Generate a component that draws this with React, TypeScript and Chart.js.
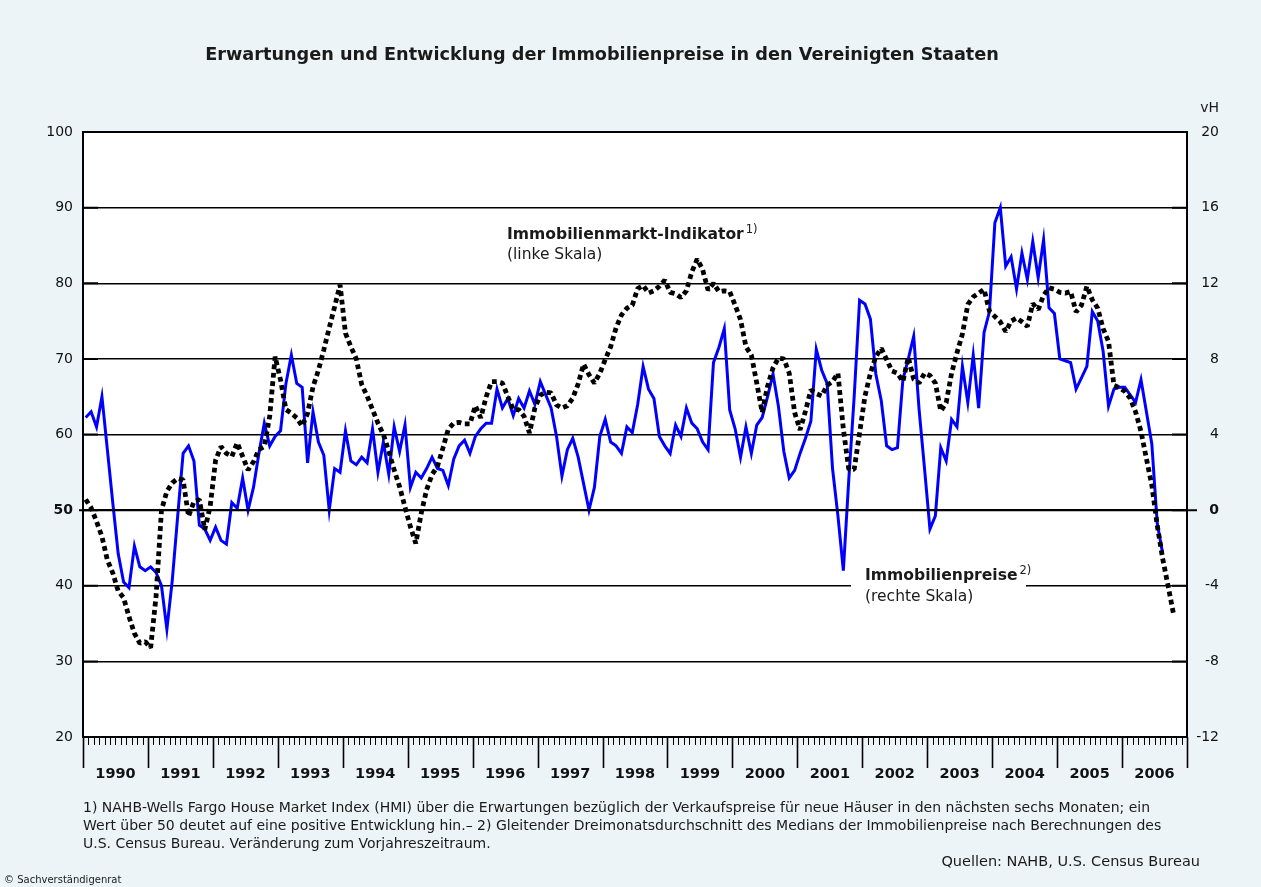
import React, { useEffect, useRef } from 'react';
import { Chart, registerables } from 'chart.js';

Chart.register(...registerables);

const FONT = '"DejaVu Sans", "Liberation Sans", Arial, sans-serif';

const titleText = 'Erwartungen und Entwicklung der Immobilienpreise in den Vereinigten Staaten';

const years = ['1990', '1991', '1992', '1993', '1994', '1995', '1996', '1997', '1998', '1999', '2000', '2001', '2002', '2003', '2004', '2005', '2006'];

// NAHB-Wells Fargo HMI (linke Skala), monatlich ab Januar 1990
const indicatorValues = [
  51.4, 50.3, 48.5, 46.5, 43.4, 41.7, 39.3, 38.4, 35.9, 33.7, 32.4, 32.6,
  31.8, 38.6, 50.0, 52.5, 53.6, 54.2, 54.0, 49.2, 51.1, 51.4, 47.4, 50.5,
  56.6, 58.4, 57.5, 57.1, 58.9, 57.1, 55.3, 56.4, 58.0, 58.4, 62.4, 70.3,
  67.2, 63.3, 62.8, 62.2, 61.1, 62.8, 66.3, 68.5, 71.2, 74.1, 76.9, 79.8,
  73.4, 71.6, 70.0, 66.6, 65.1, 63.3, 61.5, 60.0, 57.8, 55.3, 53.1, 50.4,
  47.8, 45.6, 49.6, 52.7, 54.7, 55.8, 58.2, 60.7, 61.5, 61.6, 61.4, 61.4,
  63.8, 62.2, 65.0, 67.0, 67.0, 66.8, 65.0, 63.3, 63.3, 62.4, 60.2, 63.5,
  65.2, 65.6, 65.5, 63.9, 63.5, 63.8, 64.8, 66.7, 69.3, 67.9, 66.8, 68.1,
  69.9, 71.6, 74.1, 75.8, 76.7, 77.1, 79.3, 79.7, 78.7, 79.0, 79.6, 80.4,
  78.8, 78.6, 78.1, 79.0, 81.5, 83.2, 81.8, 79.1, 80.0, 78.9, 79.0, 78.9,
  77.1, 75.2, 71.6, 70.5, 66.8, 62.9, 66.4, 68.8, 70.1, 70.0, 68.1, 62.9,
  60.6, 63.1, 65.9, 65.4, 65.1, 66.5, 67.0, 68.1, 60.7, 55.4, 55.4, 60.2,
  65.1, 68.1, 70.3, 71.4, 69.9, 68.4, 68.1, 67.0, 70.2, 67.3, 66.8, 68.1,
  67.8, 66.8, 63.1, 64.2, 68.1, 70.8, 73.3, 77.2, 78.2, 78.7, 79.2, 76.3,
  75.6, 74.9, 73.6, 75.0, 75.4, 74.9, 74.3, 77.3, 76.5, 78.4, 79.4, 79.2,
  78.8, 78.7, 78.9, 76.2, 77.1, 79.6, 77.8, 76.7, 74.0, 72.3, 66.5, 66.2,
  65.7, 64.8, 63.0, 60.4, 56.8, 53.3, 48.0, 43.6, 40.0, 36.3,
];

// Immobilienpreise, Veränderung zum Vorjahr in vH (rechte Skala), monatlich ab Januar 1990
const priceChangeValues = [
  4.9, 5.2, 4.4, 6.0, 3.2, 0.4, -2.3, -3.8, -4.1, -1.9, -3.0, -3.2,
  -3.0, -3.3, -4.0, -6.3, -3.7, -0.3, 3.0, 3.4, 2.6, -0.8, -1.0, -1.6,
  -0.9, -1.6, -1.8, 0.4, 0.1, 1.7, 0.0, 1.2, 3.0, 4.6, 3.4, 3.9,
  4.2, 6.7, 8.2, 6.7, 6.5, 2.5, 5.2, 3.6, 2.9, 0.0, 2.2, 2.0,
  4.2, 2.6, 2.4, 2.8, 2.5, 4.3, 2.0, 3.6, 1.9, 4.4, 3.1, 4.5,
  1.2, 2.0, 1.7, 2.2, 2.8, 2.2, 2.1, 1.3, 2.7, 3.4, 3.7, 3.0,
  3.9, 4.3, 4.6, 4.6, 6.4, 5.4, 5.9, 5.0, 5.9, 5.4, 6.3, 5.6,
  6.8, 6.1, 5.4, 3.9, 1.8, 3.2, 3.8, 2.8, 1.4, 0.0, 1.2, 3.9,
  4.8, 3.6, 3.4, 3.0, 4.4, 4.1, 5.6, 7.6, 6.4, 5.9, 3.9, 3.4,
  3.0, 4.5, 3.9, 5.4, 4.6, 4.3, 3.6, 3.2, 7.8, 8.6, 9.6, 5.3,
  4.3, 2.8, 4.4, 3.0, 4.5, 4.9, 6.0, 7.2, 5.5, 3.1, 1.7, 2.1,
  3.0, 3.8, 4.7, 8.5, 7.4, 6.7, 2.2, -0.3, -3.2, 1.6, 6.0, 11.1,
  10.9, 10.1, 7.2, 5.8, 3.4, 3.2, 3.3, 6.9, 8.0, 9.2, 5.3, 2.2,
  -1.0, -0.3, 3.3, 2.6, 4.8, 4.4, 7.6, 5.7, 8.2, 5.4, 9.4, 10.5,
  15.2, 16.0, 12.9, 13.4, 11.7, 13.6, 12.2, 14.2, 12.3, 14.3, 10.7, 10.4,
  8.0, 7.9, 7.8, 6.4, 7.0, 7.6, 10.5, 10.0, 8.4, 5.5, 6.4, 6.5,
  6.5, 6.1, 5.7, 6.9, 5.2, 3.5, -0.7, -2.3,
];

const leftAxis = { min: 20, max: 100, step: 10, bold: 50 };
const rightAxis = { min: -12, max: 20, step: 4, bold: 0, unit: 'vH' };

const indicatorLabel = ['Immobilienmarkt-Indikator', '1)', '(linke Skala)'];
const priceLabel = ['Immobilienpreise', '2)', '(rechte Skala)'];

const footnotes = [
  '1) NAHB-Wells Fargo House Market Index (HMI) über die Erwartungen bezüglich der Verkaufspreise für neue Häuser in den nächsten sechs Monaten; ein',
  'Wert über 50 deutet auf eine positive Entwicklung hin.– 2) Gleitender Dreimonatsdurchschnitt des Medians der Immobilienpreise nach Berechnungen des',
  'U.S. Census Bureau. Veränderung zum Vorjahreszeitraum.',
];
const sourceText = 'Quellen: NAHB, U.S. Census Bureau';
const copyrightText = '© Sachverständigenrat';

const MONTHS = years.length * 12;

const decorPlugin = {
  id: 'decor',
  beforeDraw(chart: any) {
    const { ctx, chartArea: a, width, height } = chart;
    ctx.save();
    ctx.fillStyle = '#ECF4F8';
    ctx.fillRect(0, 0, width, height);
    ctx.fillStyle = '#FFFFFF';
    ctx.fillRect(a.left, a.top, a.right - a.left, a.bottom - a.top);
    ctx.restore();
  },
  beforeDatasetsDraw(chart: any) {
    const { ctx } = chart;
    const yl = chart.scales.yLeft;
    const y40 = yl.getPixelForValue(40);
    ctx.save();
    ctx.fillStyle = '#FFFFFF';
    ctx.fillRect(851, y40 - 3, 175, 6);
    ctx.restore();
  },
  afterDraw(chart: any) {
    const { ctx, chartArea: a } = chart;
    const xs = chart.scales.x;
    const yl = chart.scales.yLeft;
    ctx.save();
    ctx.strokeStyle = '#000';
    // month / year ticks below the plot
    for (let m = 0; m <= MONTHS; m++) {
      const major = m % 12 === 0;
      const px = Math.round(xs.getPixelForValue(m)) + 0.5;
      ctx.lineWidth = major ? 1.6 : 1;
      ctx.beginPath();
      ctx.moveTo(px, a.bottom);
      ctx.lineTo(px, a.bottom + (major ? 31 : 8));
      ctx.stroke();
    }
    // inner ticks at gridlines
    for (let v = leftAxis.min; v <= leftAxis.max; v += leftAxis.step) {
      const py = yl.getPixelForValue(v);
      ctx.lineWidth = 2;
      ctx.beginPath();
      ctx.moveTo(a.left, py);
      ctx.lineTo(a.left + 15, py);
      ctx.moveTo(a.right - 15, py);
      ctx.lineTo(a.right, py);
      ctx.stroke();
    }
    // zero line extends beyond the frame
    const y50 = yl.getPixelForValue(50);
    ctx.lineWidth = 2;
    ctx.beginPath();
    ctx.moveTo(a.left - 4, y50);
    ctx.lineTo(a.right + 10, y50);
    ctx.stroke();

    ctx.fillStyle = '#1a1a1a';
    // title
    ctx.font = `bold 17.7px ${FONT}`;
    ctx.textAlign = 'center';
    ctx.textBaseline = 'middle';
    ctx.fillText(titleText, 602, 55);

    // unit label right axis
    ctx.font = `14px ${FONT}`;
    ctx.textAlign = 'right';
    ctx.fillText(rightAxis.unit, chart.scales.yRight.right, 108);

    // series annotations
    const drawLabel = (lines: string[], x: number, y1: number, y2: number) => {
      ctx.textAlign = 'left';
      ctx.textBaseline = 'alphabetic';
      ctx.font = `bold 15.6px ${FONT}`;
      ctx.fillText(lines[0], x, y1);
      const w = ctx.measureText(lines[0]).width;
      ctx.font = `11.5px ${FONT}`;
      ctx.fillText(lines[1], x + w + 2, y1 - 6);
      ctx.font = `15.5px ${FONT}`;
      ctx.fillText(lines[2], x, y2);
    };
    drawLabel(indicatorLabel, 507, 239, 259);
    drawLabel(priceLabel, 865, 580, 601);

    // footnotes
    ctx.font = `14px ${FONT}`;
    ctx.textAlign = 'left';
    ctx.textBaseline = 'middle';
    footnotes.forEach((t, i) => ctx.fillText(t, 83, 808 + i * 18));
    ctx.font = `14.5px ${FONT}`;
    ctx.textAlign = 'right';
    ctx.fillText(sourceText, 1200, 862);
    ctx.font = `10px ${FONT}`;
    ctx.textAlign = 'left';
    ctx.fillText(copyrightText, 4, 880);
    ctx.restore();
  },
};

export default function App() {
  const ref = useRef<HTMLCanvasElement>(null);
  useEffect(() => {
    document.body.style.margin = '0';
    const canvas = ref.current;
    if (!canvas) return;
    const chart = new Chart(canvas, {
      type: 'line',
      data: {
        datasets: [
          {
            label: 'Immobilienmarkt-Indikator',
            data: indicatorValues.map((v, i) => ({ x: i + 0.5, y: v })),
            yAxisID: 'yLeft',
            borderColor: '#000000',
            borderWidth: 4.8,
            borderDash: [4.8, 3.6],
            borderCapStyle: 'butt',
            borderJoinStyle: 'bevel',
            pointRadius: 0,
            tension: 0,
          },
          {
            label: 'Immobilienpreise',
            data: priceChangeValues.map((v, i) => ({ x: i + 0.5, y: v })),
            yAxisID: 'yRight',
            borderColor: '#0000FF',
            borderWidth: 3,
            pointRadius: 0,
            tension: 0,
          },
        ],
      },
      options: {
        responsive: false,
        animation: false,
        events: [],
        layout: { padding: { top: 132, left: 0, right: 42, bottom: 0 } },
        plugins: {
          legend: { display: false },
          tooltip: { enabled: false },
          title: { display: false },
        },
        scales: {
          x: {
            type: 'linear',
            min: 0,
            max: MONTHS,
            afterBuildTicks: (s: any) => {
              s.ticks = years.map((_, i) => ({ value: i * 12 + 6 }));
            },
            afterFit: (s: any) => {
              s.height = 150;
            },
            ticks: {
              autoSkip: false,
              maxRotation: 0,
              padding: 29,
              color: '#111',
              font: { family: FONT, size: 14.5, weight: 'bold' },
              callback: (_v: any, i: number) => years[i],
            },
            grid: { display: false, drawTicks: false },
            border: { display: true, color: '#000', width: 2 },
          },
          yLeft: {
            type: 'linear',
            position: 'left',
            min: leftAxis.min,
            max: leftAxis.max,
            afterFit: (s: any) => {
              s.width = 83;
            },
            ticks: {
              stepSize: leftAxis.step,
              padding: 10,
              color: '#111',
              font: (c: any) => ({ family: FONT, size: 14, weight: c.tick && c.tick.value === leftAxis.bold ? 'bold' : 'normal' }),
            },
            grid: {
              color: '#000',
              drawTicks: false,
              lineWidth: (c: any) => (c.tick && (c.tick.value === 50 || c.tick.value === 100 || c.tick.value === 20) ? 2 : 1.5),
            },
            border: { display: true, color: '#000', width: 2 },
          },
          yRight: {
            type: 'linear',
            position: 'right',
            min: rightAxis.min,
            max: rightAxis.max,
            afterFit: (s: any) => {
              s.width = 32;
            },
            ticks: {
              stepSize: rightAxis.step,
              crossAlign: 'far',
              padding: 8,
              color: '#111',
              font: (c: any) => ({ family: FONT, size: 14, weight: c.tick && c.tick.value === rightAxis.bold ? 'bold' : 'normal' }),
            },
            grid: { drawOnChartArea: false, drawTicks: false },
            border: { display: true, color: '#000', width: 2 },
          },
        },
      } as any,
      plugins: [decorPlugin],
    });
    return () => chart.destroy();
  }, []);
  return (
    <div style={{ width: 1261, height: 887 }}>
      <canvas ref={ref} width={1261} height={887} style={{ display: 'block', width: 1261, height: 887 }} />
    </div>
  );
}
